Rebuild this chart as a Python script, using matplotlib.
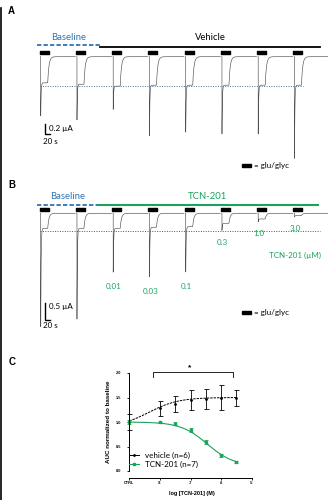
import numpy as np
import matplotlib
matplotlib.use('Agg')
import matplotlib.pyplot as plt
from matplotlib.lines import Line2D
from matplotlib.patches import Rectangle

W, H = 328, 500

# sweep onsets (s), glu/glyc bar and washout timing
onsets = [0, 145, 290, 435, 580, 725, 870, 1015]
bar_lead = 4
bar_dur = 36
wash_at = 28

# A: vehicle, inward current (uA)
a_peak = [1.29, 1.38, 1.14, 1.73, 1.65, 1.69, 1.69, 2.24]
a_ss = [0.55, 0.58, 0.62, 0.60, 0.60, 0.60, 0.60, 0.60]

# B: cumulative TCN-201 (uM)
b_peak = [3.59, 3.35, 1.85, 2.00, 1.85, 0.53, 0.26, 0.11]
b_ss = [0.45, 0.45, 0.45, 0.42, 0.40, 0.30, 0.17, 0.07]
b_conc = ['', '', '0.01', '0.03', '0.1', '0.3', '1.0', '3.0']

# C: AUC normalized to baseline, -9 is the CTRL column
log_conc = [-9, -8, -7.5, -7, -6.5, -6, -5.5]
veh_mean = [1.00, 1.28, 1.37, 1.45, 1.47, 1.50, 1.49]
veh_sem = [0.16, 0.15, 0.17, 0.20, 0.20, 0.25, 0.17]
tcn_mean = [1.00, 0.99, 0.96, 0.84, 0.59, 0.32, 0.18]
tcn_sem = [0.05, 0.02, 0.03, 0.04, 0.04, 0.03, 0.02]
x_ticks = [-9, -8, -7, -6, -5]
x_ticklabels = ['CTRL', '-8', '-7', '-6', '-5']
veh_fit = dict(bottom=0.9, top=1.5, logec50=-8.35, hill=0.9)
tcn_fit = dict(bottom=0.1, top=1.0, logec50=-6.45, hill=-1.0)

BLUE = '#2f74b5'
GREEN = '#1ba35b'
TRACE = '#505050'
TXT = ['Lato', 'DejaVu Sans']
ARIAL = ['Liberation Sans', 'DejaVu Sans']


def sweep(peak, ss, tau_fast=1.5, tau_off=5.0):
    t = np.linspace(-1, 138, 1400)
    i = np.zeros_like(t)
    on = (t >= 0) & (t < wash_at)
    i[on] = -(ss + (peak - ss) * np.exp(-t[on] / tau_fast))
    off = t >= wash_at
    i_w = ss + (peak - ss) * np.exp(-wash_at / tau_fast)
    i[off] = -i_w * np.exp(-(t[off] - wash_at) / tau_off)
    return t, i


def hill(x, bottom, top, logec50, hill):
    return bottom + (top - bottom) / (1 + 10 ** ((logec50 - x) * hill))


fig = plt.figure(figsize=(W / 100, H / 100), dpi=100)

# pixel canvas for letters and free text
canvas = fig.add_axes([0, 0, 1, 1])
canvas.set_xlim(0, W)
canvas.set_ylim(H, 0)
canvas.axis('off')


def trace_axes(left, top, right, bottom, x0_px, px_per_s, y0_px, px_per_ua):
    ax = fig.add_axes([left / W, 1 - bottom / H, (right - left) / W, (bottom - top) / H])
    ax.set_xlim((left - x0_px) / px_per_s, (right - x0_px) / px_per_s)
    ax.set_ylim((y0_px - bottom) / px_per_ua, (y0_px - top) / px_per_ua)
    ax.axis('off')
    return ax


def draw_traces(ax, peaks, sss, bar_y, bar_h):
    for on, p, s in zip(onsets, peaks, sss):
        t, i = sweep(p, s)
        ax.plot(t + on, i, color=TRACE, lw=0.45)
    ax.broken_barh([(on - bar_lead, bar_dur) for on in onsets], (bar_y, bar_h), color='k')


def scale_bar(ax, t0, i0, dt, di):
    ax.plot([t0, t0, t0 + dt], [i0, i0 - di, i0 - di], color='k', lw=1.0,
            solid_joinstyle='miter')


# ---- A ----
ax_a = trace_axes(0, 20, 328, 175, 40.7, 0.25, 56.7, 47.5)
draw_traces(ax_a, a_peak, a_ss, 0.06, 0.065)
ax_a.plot([-15, 237], [0.24, 0.24], color=BLUE, lw=1.3, ls=(0, (2.4, 1.2)))
ax_a.plot([237, 1117], [0.21, 0.21], color='k', lw=1.3)
ax_a.plot([-3, 1049], [-0.62, -0.62], color='#4f7396', lw=0.7, ls=(0, (1, 1.5)))
scale_bar(ax_a, 17.2, -1.417, 20, 0.2)

canvas.text(11, 11.5, 'A', fontsize=7, fontweight='bold', family=ARIAL, ha='center', va='center')
canvas.text(69, 37, 'Baseline', fontsize=6.8, color=BLUE, family=TXT, ha='center', va='center')
canvas.text(210, 37.3, 'Vehicle', fontsize=6.8, color='k', family=TXT, ha='center', va='center')
canvas.text(49, 128, '0.2 µA', fontsize=5.8, family=TXT, ha='left', va='center')
canvas.text(43, 141, '20 s', fontsize=5.8, family=TXT, ha='left', va='center')
canvas.add_patch(Rectangle((242, 164.2), 9, 3, color='k'))
canvas.text(254, 165.7, '= glu/glyc', fontsize=5.8, family=TXT, ha='left', va='center')

# ---- B ----
ax_b = trace_axes(0, 190, 328, 345, 40.7, 0.25, 213.3, 33.3)
draw_traces(ax_b, b_peak, b_ss, 0.055, 0.09)
ax_b.plot([-15, 229], [0.25, 0.25], color=BLUE, lw=1.3, ls=(0, (2.4, 1.2)))
ax_b.plot([229, 1109], [0.25, 0.25], color=GREEN, lw=1.5)
ax_b.plot([-3, 1117], [-0.53, -0.53], color='#555555', lw=0.7, ls=(0, (1, 1.5)))
scale_bar(ax_b, 17.2, -2.69, 20, 0.5)
for on, p, c in zip(onsets, b_peak, b_conc):
    if c:
        ax_b.text(on + 3, -p - 0.36, c, fontsize=5.8, color=GREEN, family=TXT,
                  ha='center', va='center')

canvas.text(11.5, 185, 'B', fontsize=7, fontweight='bold', family=ARIAL, ha='center', va='center')
canvas.text(68, 196.7, 'Baseline', fontsize=6.8, color=BLUE, family=TXT, ha='center', va='center')
canvas.text(207, 196.7, 'TCN-201', fontsize=6.8, color=GREEN, family=TXT, ha='center', va='center')
canvas.text(295, 255, 'TCN-201 (µM)', fontsize=5.8, color=GREEN, family=TXT, ha='center', va='center')
canvas.text(49, 307, '0.5 µA', fontsize=5.8, family=TXT, ha='left', va='center')
canvas.text(43, 325.5, '20 s', fontsize=5.8, family=TXT, ha='left', va='center')
canvas.add_patch(Rectangle((242, 310.5), 9, 3, color='k'))
canvas.text(254, 312, '= glu/glyc', fontsize=5.8, family=TXT, ha='left', va='center')

# ---- C ----
canvas.text(12, 362, 'C', fontsize=7, fontweight='bold', family=ARIAL, ha='center', va='center')
x_l, x_r, y_b, y_t = 129.3, 251.7, 471, 373
ax_c = fig.add_axes([x_l / W, 1 - y_b / H, (x_r - x_l) / W, (y_b - y_t) / H])
ax_c.set_xlim(-9, -5)
ax_c.set_ylim(0, 2)
ax_c.patch.set_visible(False)
for side in ('top', 'right'):
    ax_c.spines[side].set_visible(False)
ax_c.spines['left'].set_bounds(0, 2)
ax_c.spines['bottom'].set_position(('outward', 4.8))
for side in ('left', 'bottom'):
    ax_c.spines[side].set_linewidth(0.7)
ax_c.set_xticks(x_ticks)
ax_c.set_xticklabels(x_ticklabels)
ax_c.set_yticks([0, 0.5, 1.0, 1.5, 2.0])
ax_c.set_yticklabels(['0.0', '0.5', '1.0', '1.5', '2.0'])
ax_c.tick_params(axis='both', direction='out', length=1.5, width=0.6, labelsize=2.8)
ax_c.tick_params(axis='y', pad=4.5)
ax_c.tick_params(axis='x', pad=1.0)
for lab in ax_c.get_xticklabels() + ax_c.get_yticklabels():
    lab.set_fontweight('bold')
    lab.set_family(ARIAL)

xf = np.linspace(-9, -5.5, 200)
ax_c.plot(xf, hill(xf, **veh_fit), color='k', lw=0.7, ls=(0, (2.5, 1)))
ax_c.plot(xf, hill(xf, **tcn_fit), color=GREEN, lw=0.8)
ax_c.errorbar(log_conc, veh_mean, yerr=veh_sem, fmt='o', ms=1.0, color='k',
              elinewidth=0.6, capsize=1.8, capthick=0.6, clip_on=False)
ax_c.errorbar(log_conc, tcn_mean, yerr=tcn_sem, fmt='s', ms=2.0, color=GREEN,
              elinewidth=0.6, capsize=1.4, capthick=0.6, clip_on=False)

ax_c.plot([-8.24, -8.24, -5.6, -5.6], [1.92, 2.03, 2.03, 1.92], color='k', lw=0.6, clip_on=False)
ax_c.text(-7.02, 2.1, '*', fontsize=6, fontweight='bold', family=ARIAL, ha='center', va='center')

ax_c.set_ylabel('AUC normalized to baseline', fontsize=4.5, fontweight='bold', family=ARIAL, va='center')
ax_c.yaxis.set_label_coords(-0.174, 0.5)
ax_c.set_xlabel('log [TCN-201] (M)', fontsize=4.0, fontweight='bold', family=ARIAL, va='center')
ax_c.xaxis.set_label_coords(0.512, -0.228)

handles = [
    Line2D([], [], color='k', lw=0.7, marker='o', ms=1.0),
    Line2D([], [], color=GREEN, lw=0.8, marker='s', ms=2.0),
]
ax_c.legend(handles, ['vehicle (n=6)', 'TCN-201 (n=7)'], loc='lower left',
            bbox_to_anchor=(0.0, 0.03), borderaxespad=0, borderpad=0, frameon=False,
            prop={'family': TXT, 'size': 5.8}, handlelength=1.2, handletextpad=0.7,
            labelspacing=0.25)

# frame line on the left edge
canvas.plot([1, 1], [8, 500], color='k', lw=1.2)

fig.savefig('out.png', dpi=100)
